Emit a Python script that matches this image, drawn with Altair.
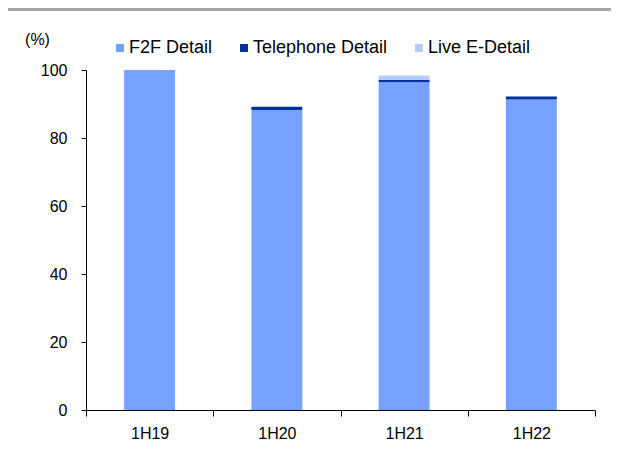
import altair as alt
import pandas as pd

periods = ["1H19", "1H20", "1H21", "1H22"]
series = ["F2F Detail", "Telephone Detail", "Live E-Detail"]
f2f = [100.0, 88.2, 96.4, 91.3]
telephone = [0.0, 1.0, 0.7, 0.9]
live = [0.0, 0.0, 1.3, 0.0]
colors = ["#76A1FF", "#003399", "#B5CCFF"]
y_ticks = [0, 20, 40, 60, 80, 100]

rows = []
for i, p in enumerate(periods):
    for s, vals in zip(series, [f2f, telephone, live]):
        rows.append({"period": p, "series": s, "value": vals[i], "order": series.index(s)})
df = pd.DataFrame(rows)

FONT = "Liberation Sans, Arial, sans-serif"

bars = alt.Chart(df).mark_bar(width=alt.RelativeBandSize(0.4)).encode(
    x=alt.X("period:N", sort=periods,
            scale=alt.Scale(paddingInner=0, paddingOuter=0),
            axis=alt.Axis(title=None, labelAngle=0, tickBand="extent", tickSize=6,
                          labelPadding=9, labelFontSize=16, labelFont=FONT,
                          labelColor="#000000", domainColor="#000000", tickColor="#000000")),
    y=alt.Y("value:Q", stack="zero",
            scale=alt.Scale(domain=[0, 100], nice=False),
            axis=alt.Axis(values=y_ticks, title="(%)", titleAngle=0, titleX=-49, titleY=-26,
                          titleAlign="center", titleBaseline="alphabetic",
                          titleFont=FONT, titleFontSize=16, titleFontWeight="normal",
                          titleColor="#000000", grid=False, tickSize=5, labelPadding=14,
                          labelFontSize=16, labelFont=FONT, labelColor="#000000",
                          domainColor="#000000", tickColor="#000000")),
    color=alt.Color("series:N", sort=series,
                    scale=alt.Scale(domain=series, range=colors),
                    legend=alt.Legend(title=None, orient="none", direction="horizontal",
                                      legendX=25, legendY=-31, symbolType="square",
                                      symbolSize=64, symbolStrokeWidth=0, labelFont=FONT,
                                      labelFontSize=18, labelColor="#000000",
                                      labelOffset=0, columnPadding=22)),
    order=alt.Order("order:Q"),
)

topbar = alt.Chart(pd.DataFrame({"a": [0]})).mark_rect(color="#A6A6A6", clip=False).encode(
    x=alt.value(-78), x2=alt.value(525), y=alt.value(-62), y2=alt.value(-59)
)

chart = alt.layer(topbar, bars).properties(
    width=509, height=340,
    autosize=alt.AutoSizeParams(type="none"),
    padding={"left": 78, "top": 62, "right": 16, "bottom": 36},
).configure_view(stroke=None)

chart.save("out.html", embed_options={"renderer": "svg", "actions": False})
